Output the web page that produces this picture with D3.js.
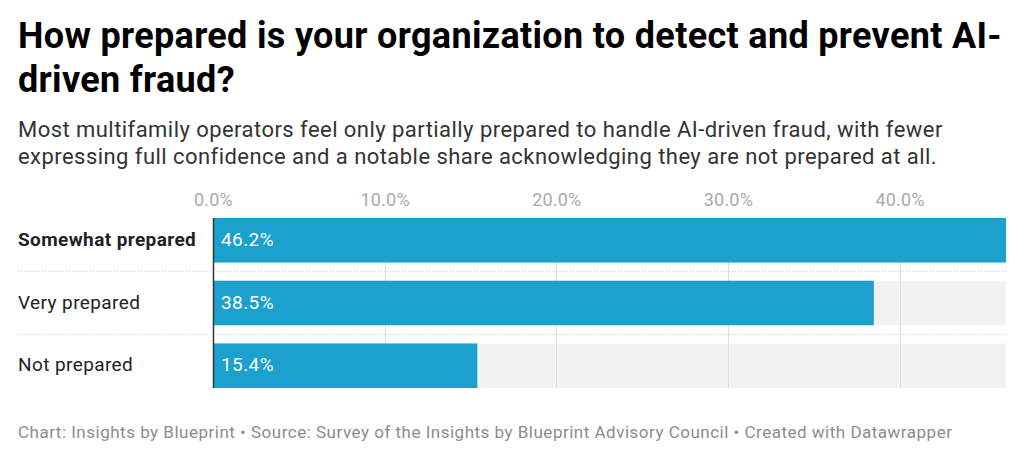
<!DOCTYPE html>
<html>
<head>
<meta charset="utf-8">
<script src="https://cdn.jsdelivr.net/npm/d3@7"></script>
<style>
  html, body { margin: 0; padding: 0; background: #fff; }
  svg { display: block; font-family: Roboto, "Noto Sans", sans-serif; }
</style>
</head>
<body>
<svg id="chart" width="1024" height="459"></svg>
<script>
const categories = ["Somewhat prepared", "Very prepared", "Not prepared"];
const values = [46.2, 38.5, 15.4];
const tickValues = [0, 10, 20, 30, 40];
const boldCategories = ["Somewhat prepared"];

const title = ["How prepared is your organization to detect and prevent AI-", "driven fraud?"];
const subtitle = ["Most multifamily operators feel only partially prepared to handle AI-driven fraud, with fewer",
  "expressing full confidence and a notable share acknowledging they are not prepared at all."];
const footer = "Chart: Insights by Blueprint • Source: Survey of the Insights by Blueprint Advisory Council • Created with Datawrapper";

(function () {
const svg = d3.select("#chart");
const plotLeft = 213, plotRight = 1006, plotTop = 218, plotBottom = 388;
const labelX = 18;

const x = d3.scaleLinear().domain([0, d3.max(values)]).range([plotLeft, plotRight]);
const y = d3.scaleBand().domain(categories).range([plotTop, plotBottom]).paddingInner(0.29).paddingOuter(0);

// Title
svg.append("g").selectAll("text").data(title).join("text")
  .attr("x", labelX).attr("y", (d, i) => 48 + i * 44)
  .attr("font-size", 36).attr("font-weight", 700).attr("fill", "#000")
  .attr("letter-spacing", 0.33)
  .text(d => d);

// Subtitle
svg.append("g").selectAll("text").data(subtitle).join("text")
  .attr("x", labelX).attr("y", (d, i) => 137 + i * 27)
  .attr("font-size", 22).attr("fill", "#333")
  .attr("letter-spacing", 0.45)
  .text(d => d);

// Axis ticks
const axis = d3.axisTop(x).tickValues(tickValues).tickFormat(d => d3.format(".1f")(d) + "%").tickSize(0).tickPadding(0);
const axG = svg.append("g").attr("transform", `translate(0,206)`).call(axis);
axG.select(".domain").remove();
axG.selectAll("text").attr("font-size", 18).attr("fill", "#aaaaaa")
  .attr("font-family", "Roboto, sans-serif").attr("letter-spacing", 0.2).attr("dy", 0);

// Background bars
svg.append("g").selectAll("rect").data(categories).join("rect")
  .attr("x", plotLeft).attr("y", d => y(d))
  .attr("width", plotRight - plotLeft).attr("height", y.bandwidth())
  .attr("fill", "#f2f2f2");

// Gridlines
svg.append("g").selectAll("line").data(tickValues.filter(v => v > 0)).join("line")
  .attr("x1", d => Math.round(x(d)) + 0.5).attr("x2", d => Math.round(x(d)) + 0.5)
  .attr("y1", plotTop).attr("y2", plotBottom)
  .attr("stroke", "#dddddd").attr("stroke-width", 1);

// Dotted separators
const seps = categories.slice(0, -1).map(c => Math.floor(y(c) + y.bandwidth() + y.step() * y.paddingInner() / 2) + 0.5);
svg.append("g").selectAll("line").data(seps).join("line")
  .attr("x1", labelX).attr("x2", plotRight)
  .attr("y1", d => d).attr("y2", d => d)
  .attr("stroke", "#cccccc").attr("stroke-width", 1).attr("stroke-dasharray", "1,2");

// Bars
svg.append("g").selectAll("rect").data(categories).join("rect")
  .attr("x", plotLeft).attr("y", d => y(d))
  .attr("width", (d, i) => x(values[i]) - plotLeft).attr("height", y.bandwidth())
  .attr("fill", "#1ba1cd");

// Baseline
svg.append("line").attr("x1", plotLeft + 0.5).attr("x2", plotLeft + 0.5)
  .attr("y1", plotTop).attr("y2", plotBottom)
  .attr("stroke", "#333").attr("stroke-width", 1.5);

// Category labels
svg.append("g").selectAll("text").data(categories).join("text")
  .attr("x", labelX).attr("y", d => y(d) + y.bandwidth() / 2)
  .attr("dy", "0.3em")
  .attr("font-size", 19).attr("fill", "#222").attr("letter-spacing", 0.4)
  .attr("font-weight", d => boldCategories.includes(d) ? 700 : 400)
  .text(d => d);

// Value labels
svg.append("g").selectAll("text").data(categories).join("text")
  .attr("x", plotLeft + 8).attr("y", d => y(d) + y.bandwidth() / 2)
  .attr("dy", "0.3em")
  .attr("font-size", 19).attr("fill", "#fff").attr("letter-spacing", 0.4)
  .text((d, i) => d3.format(".1f")(values[i]) + "%");

// Footer
svg.append("text").attr("x", labelX).attr("y", 438)
  .attr("font-size", 17).attr("fill", "#8c8c8c").attr("letter-spacing", 0.5)
  .text(footer);
})();
</script>
</body>
</html>
